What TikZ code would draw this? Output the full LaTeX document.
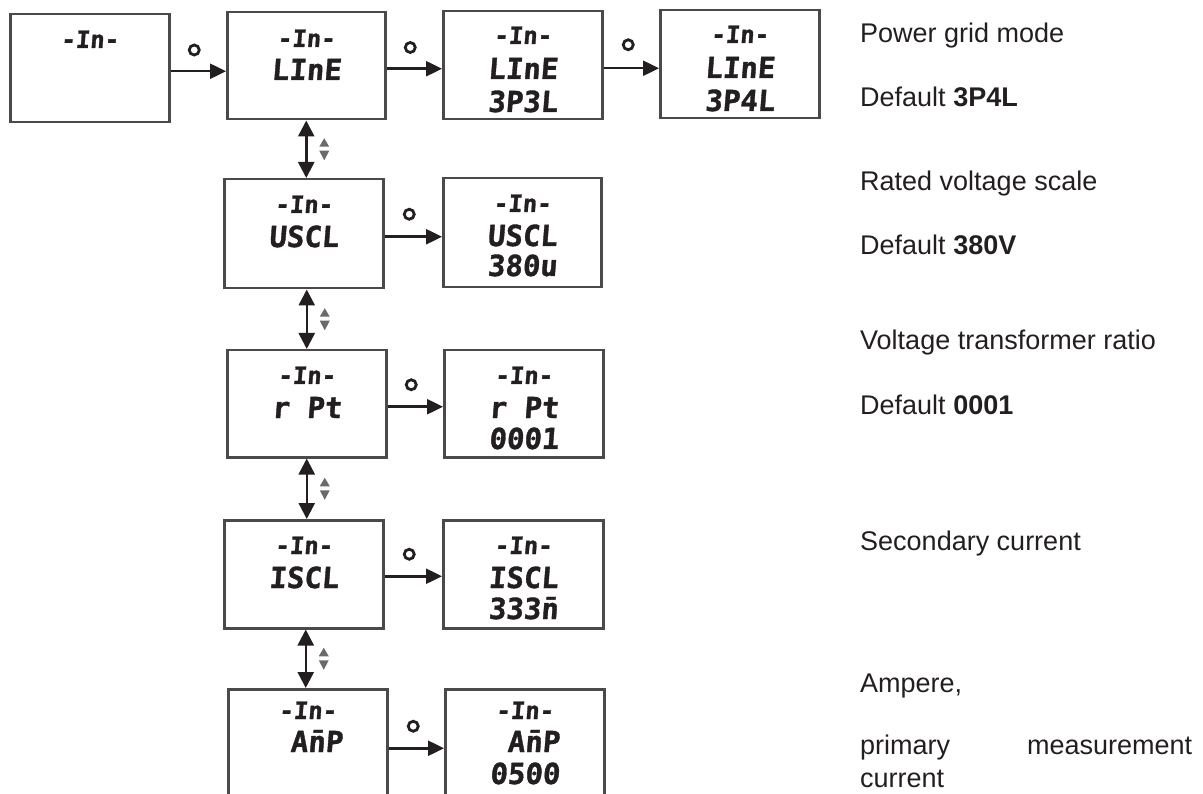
\documentclass[tikz,border=0pt]{standalone}
\usepackage{fontspec}
\setmainfont{Liberation Sans}
\newfontfamily\lcd[FakeSlant=0.08,FakeBold=1.2]{DejaVu Sans Mono}
\usetikzlibrary{arrows.meta,calc}
\definecolor{ink}{HTML}{231F20}
\definecolor{boxc}{HTML}{4A4A4A}
\definecolor{iconc}{HTML}{6A6A6A}
\tikzset{
 panel/.style={draw=boxc, line width=2.5pt, rectangle, inner sep=0pt, minimum width=158pt, minimum height=107pt, anchor=north west},
 lcdA/.style={font=\lcd\bfseries\fontsize{24}{24}\selectfont, text=ink, anchor=base, inner sep=0pt},
 lcdB/.style={font=\lcd\bfseries\fontsize{29}{29}\selectfont, text=ink, anchor=base, inner sep=0pt},
 flow/.style={draw=ink, line width=2.5pt, -{Triangle[length=16pt,width=15pt]}},
 nav/.style={draw=ink, line width=2.5pt, {Triangle[length=16pt,width=16pt]}-{Triangle[length=16pt,width=16pt]}},
 okmark/.style={circle, draw=ink, line width=2.8pt, inner sep=0pt, minimum size=10pt},
 note/.style={font=\fontsize{27}{27}\selectfont, text=ink, anchor=base west, inner sep=0pt},
 updown/.pic={
   \fill[iconc] (-5,1.5) -- (5,1.5) -- (0,11) -- cycle;
   \fill[iconc] (-5,-2.5) -- (5,-2.5) -- (0,-11) -- cycle;
 },
}
\begin{document}
\begin{tikzpicture}[x=1pt,y=-1pt]
\useasboundingbox (0,0) rectangle (1203,794);
% panels
\node[panel, minimum width=159pt, minimum height=108pt] (A) at (9,13) {};
\node[panel] (B) at (226,11) {};
\node[panel, minimum width=159pt, minimum height=108pt] (C) at (442,10) {};
\node[panel, minimum width=159pt, minimum height=108pt] (D) at (659,9) {};
\node[panel, minimum width=159pt, minimum height=109pt] (U1) at (223,178) {};
\node[panel, minimum height=109pt] (U2) at (442,177) {};
\node[panel, minimum width=159pt] (R1) at (226,349) {};
\node[panel, minimum width=159pt] (R2) at (443,349) {};
\node[panel, minimum width=159pt, minimum height=108pt] (I1) at (223,519) {};
\node[panel, minimum width=160pt, minimum height=108pt] (I2) at (442,519) {};
\node[panel, minimum width=159pt, minimum height=110pt] (M1) at (227,688) {};
\node[panel, minimum width=159pt, minimum height=110pt] (M2) at (444,688) {};
% display texts
\node[lcdA] (A1) at ([yshift=-35pt]A.north) {-In-};
\node[lcdA] (B1) at ([yshift=-36pt]B.north) {-In-};
\node[lcdB] (B2) at ([yshift=-69pt]B.north) {LInE};
\node[lcdA] (C1) at ([yshift=-34pt]C.north) {-In-};
\node[lcdB] (C2) at ([yshift=-69pt]C.north) {LInE};
\node[lcdB] (C3) at ([yshift=-102pt]C.north) {3P3L};
\node[lcdA] (D1) at ([yshift=-34pt]D.north) {-In-};
\node[lcdB] (D2) at ([yshift=-69pt]D.north) {LInE};
\node[lcdB] (D3) at ([yshift=-102pt]D.north) {3P4L};
\node[lcdA] (U11) at ([yshift=-35pt]U1.north) {-In-};
\node[lcdB] (U12) at ([yshift=-69pt]U1.north) {USCL};
\node[lcdA] (U21) at ([yshift=-35pt]U2.north) {-In-};
\node[lcdB] (U22) at ([yshift=-69pt]U2.north) {USCL};
\node[lcdB] (U23) at ([yshift=-99pt]U2.north) {380u};
\node[lcdA] (R11) at ([yshift=-35pt]R1.north) {-In-};
\node[lcdB] (R12) at ([yshift=-69pt]R1.north) {r Pt};
\node[lcdA] (R21) at ([yshift=-35pt]R2.north) {-In-};
\node[lcdB] (R22) at ([yshift=-69pt]R2.north) {r Pt};
\node[lcdB] (R23) at ([yshift=-100pt]R2.north) {0001};
\node[lcdA] (I11) at ([yshift=-35pt]I1.north) {-In-};
\node[lcdB] (I12) at ([yshift=-69pt]I1.north) {ISCL};
\node[lcdA] (I21) at ([yshift=-35pt]I2.north) {-In-};
\node[lcdB] (I22) at ([yshift=-69pt]I2.north) {ISCL};
\node[lcdB] (I23) at ([yshift=-100pt]I2.north) {333\={n}};
\node[lcdA] (M11) at ([yshift=-31pt]M1.north) {-In-};
\node[lcdB] (M12) at ([yshift=-64pt]M1.north) {\hphantom{0}A\={n}P};
\node[lcdA] (M21) at ([yshift=-31pt]M2.north) {-In-};
\node[lcdB] (M22) at ([yshift=-64pt]M2.north) {\hphantom{0}A\={n}P};
\node[lcdB] (M23) at ([yshift=-96pt]M2.north) {0500};
% horizontal arrows
\draw[flow] ([yshift=-3pt]A.east) -- ([yshift=-3pt]A.east -| B.west);
\draw[flow] ([yshift=-3pt]B.east) -- ([yshift=-3pt]B.east -| C.west);
\draw[flow] ([yshift=-3pt]C.east) -- ([yshift=-3pt]C.east -| D.west);
\draw[flow] ([yshift=-3pt]U1.east) -- ([yshift=-3pt]U1.east -| U2.west);
\draw[flow] ([yshift=-3pt]R1.east) -- ([yshift=-3pt]R1.east -| R2.west);
\draw[flow] ([yshift=-2pt]I1.east) -- ([yshift=-2pt]I1.east -| I2.west);
\draw[flow] ([yshift=-4pt]M1.east) -- ([yshift=-4pt]M1.east -| M2.west);
% circle marks
\node[okmark] (o1) at ($(A.east)!0.5!(B.west)+(-4,-17)$) {};
\node[okmark] (o2) at ($(B.east)!0.5!(C.west)+(-4,-18)$) {};
\node[okmark] (o3) at ($(C.east)!0.5!(D.west)+(-3,-20)$) {};
\node[okmark] (o4) at ($(U1.east)!0.5!(U2.west)+(-4,-19)$) {};
\node[okmark] (o5) at ($(R1.east)!0.5!(R2.west)+(-4,-19)$) {};
\node[okmark] (o6) at ($(I1.east)!0.5!(I2.west)+(-4,-20)$) {};
\node[okmark] (o7) at ($(M1.east)!0.5!(M2.west)+(-3,-18)$) {};
% vertical arrows
\draw[nav] (B.south) -- (B.south |- U1.north);
\draw[nav] ([xshift=3pt]U1.south) -- ([xshift=3pt]U1.south |- R1.north);
\draw[nav] (R1.south) -- (R1.south |- I1.north);
\draw[nav] ([xshift=2pt]I1.south) -- ([xshift=2pt]I1.south |- M1.north);
% up/down icons
\pic at ($(B.south)!0.5!(B.south |- U1.north)+(18,0)$) {updown};
\pic at ($([xshift=3pt]U1.south)!0.5!([xshift=3pt]U1.south |- R1.north)+(18,0)$) {updown};
\pic at ($(R1.south)!0.5!(R1.south |- I1.north)+(18,0)$) {updown};
\pic at ($([xshift=2pt]I1.south)!0.5!([xshift=2pt]I1.south |- M1.north)+(18,0)$) {updown};
% notes
\node[note] (n1) at (860,43) {Power grid mode};
\node[note] (n2) at (860,107) {Default \textbf{3P4L}};
\node[note] (n3) at (860,191) {Rated voltage scale};
\node[note] (n4) at (860,255) {Default \textbf{380V}};
\node[note] (n5) at (860,350) {Voltage transformer ratio};
\node[note] (n6) at (860,414) {Default \textbf{0001}};
\node[note] (n7) at (860,550) {Secondary current};
\node[note] (n8) at (860,692) {Ampere,};
\node[note] (n9) at (860,754) {\hbox to 332pt{primary\hfill measurement}};
\node[note] (n10) at (860,787) {current};
\end{tikzpicture}
\end{document}
